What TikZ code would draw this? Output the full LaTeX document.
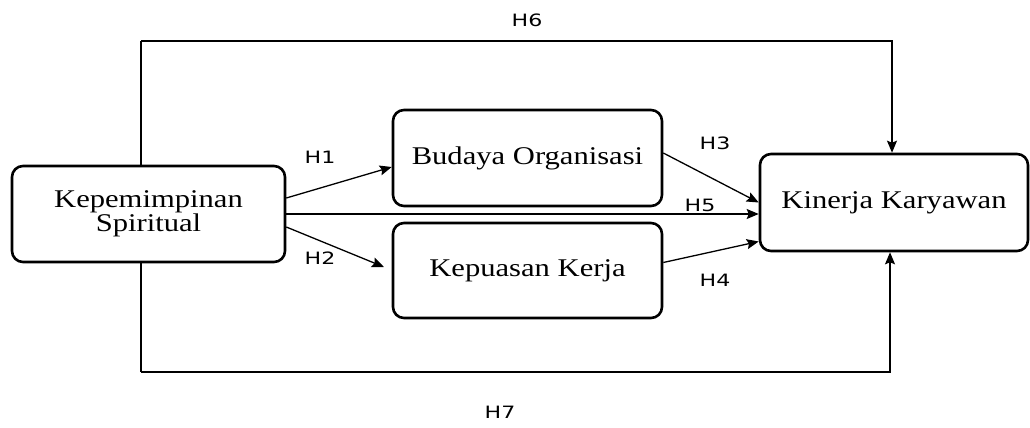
\documentclass[tikz,border=0pt]{standalone}
\usepackage{fontspec}
\usetikzlibrary{arrows.meta}
\newfontfamily\boxfont{Liberation Serif}[FakeStretch=1.2]
\newfontfamily\lblfont{DejaVu Sans}[FakeStretch=1.3]
\tikzset{
  varbox/.style={draw, line width=2.6pt, rounded corners=11pt, inner sep=0pt,
    align=center, font=\boxfont\fontsize{25.5}{24}\selectfont},
  hyp/.style={font=\lblfont\fontsize{17}{17}\selectfont, inner sep=0pt},
  link/.style={line width=1.3pt, -{Stealth[length=12pt,width=10pt,inset=2pt]}},
  plain/.style={line width=1.6pt}
}
\begin{document}
\begin{tikzpicture}[x=1pt,y=-1pt]
\useasboundingbox (0,0) rectangle (1030,428);
\node[varbox, minimum width=273pt, minimum height=96pt] (kep) at (148.5,214){Kepemimpinan\\Spiritual};
\node[varbox, minimum width=269pt, minimum height=96pt] (bud) at (527.5,158){Budaya Organisasi};
\node[varbox, minimum width=269pt, minimum height=95pt] (kps) at (527.5,270.5){Kepuasan Kerja};
\node[varbox, minimum width=268pt, minimum height=97pt] (kin) at (894,202.5){Kinerja Karyawan};
\coordinate (h2tip) at (384,267);
\coordinate (h6top) at (141,41);
\coordinate (h7bot) at (141,372);
% direct paths
\draw[link] ([yshift=16pt]kep.east) -- ([yshift=-9pt]bud.west);
\draw[link] ([yshift=-13pt]kep.east) -- (h2tip);
\draw[link] ([yshift=5pt]bud.east) -- (kin.west);
\draw[link] ([yshift=8pt]kps.east) -- ([yshift=-39pt]kin.west);
\draw[link] (kep.east) -- (kep.east -| kin.west);
% outer paths
\draw[plain] ([xshift=-7.5pt]kep.north) -- (h6top);
\draw[link] (h6top) -| ([xshift=-2pt]kin.north);
\draw[plain] ([xshift=-7.5pt]kep.south) -- (h7bot);
\draw[link] (h7bot) -| ([xshift=-4pt]kin.south);
% hypotheses
\node[hyp] (lh1) at (320,157){H1};
\node[hyp] (lh2) at (320,258){H2};
\node[hyp] (lh3) at (715,143){H3};
\node[hyp] (lh4) at (715,280){H4};
\node[hyp] (lh5) at (700,205){H5};
\node[hyp] (lh6) at (527,20){H6};
\node[hyp] (lh7) at (500,412){H7};
\end{tikzpicture}
\end{document}
